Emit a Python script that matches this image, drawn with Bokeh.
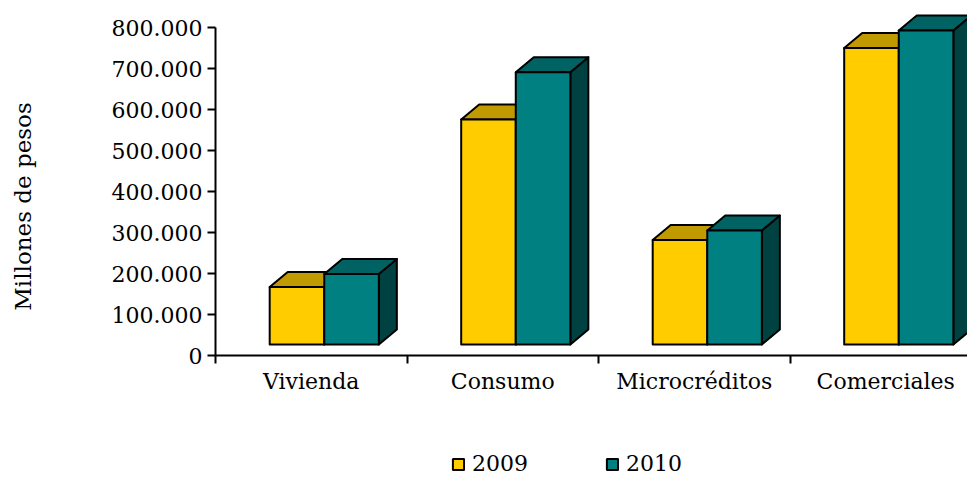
import math
from bokeh.plotting import figure
from bokeh.layouts import column, row
from bokeh.models import FixedTicker, Range1d, Legend, LegendItem, ColumnDataSource
from bokeh.core.properties import value
from bokeh.embed import file_html
from bokeh.resources import INLINE

# ---- data ----
categories = ["Vivienda", "Consumo", "Microcréditos", "Comerciales"]
series_names = ["2009", "2010"]
v2009 = [140000, 549000, 255000, 723000]
v2010 = [172000, 664000, 278000, 766000]
y_ticks = [0, 100000, 200000, 300000, 400000, 500000, 600000, 700000, 800000]
y_tick_labels = ["0", "100.000", "200.000", "300.000", "400.000", "500.000",
                 "600.000", "700.000", "800.000"]
y_title = "Millones de pesos"

# ---- style / geometry constants ----
FONT = "DejaVu Serif"
FS = "22px"
TOTAL_W, TOTAL_H = 967, 477
TITLE_W = 45
MAIN_H = 400
PX_PER_UNIT_Y = 41 / 100000.0     # pixels per data unit
PX_PER_CAT = 191.5                # pixels per category
FRAME_LEFT = 215
FRAME_BOTTOM = 355
FRAME_W = TOTAL_W - FRAME_LEFT
BAR_W = 0.285
GROUP_SHIFT = 0.068
DEPTH_X = 18 / PX_PER_CAT
DEPTH_Y = 15 / PX_PER_UNIT_Y
BASE = 11 / PX_PER_UNIT_Y
NAN = float("nan")

front_cols = ["#FFCC00", "#008080"]
top_cols = ["#C09A00", "#006262"]
side_cols = ["#997A00", "#004242"]

p = figure(width=TOTAL_W - TITLE_W, height=MAIN_H,
           x_range=Range1d(0, FRAME_W / PX_PER_CAT),
           y_range=Range1d(0, FRAME_BOTTOM / PX_PER_UNIT_Y),
           output_backend="svg", toolbar_location=None,
           min_border_left=FRAME_LEFT - TITLE_W, min_border_right=0,
           min_border_top=0, min_border_bottom=MAIN_H - FRAME_BOTTOM)
p.outline_line_color = None
p.xgrid.visible = False
p.ygrid.visible = False

front_renderers = []
for si, vals in enumerate([v2009, v2010]):
    lefts, rights, tops, bottoms = [], [], [], []
    top_xs, top_ys, side_xs, side_ys = [], [], [], []
    for ci, v in enumerate(vals):
        c = ci + 0.5 + GROUP_SHIFT
        l = c - BAR_W + si * BAR_W
        r = l + BAR_W
        b = BASE
        t = BASE + v
        lefts.append(l); rights.append(r); tops.append(t); bottoms.append(b)
        top_xs.append([l, r, r + DEPTH_X, l + DEPTH_X])
        top_ys.append([t, t, t + DEPTH_Y, t + DEPTH_Y])
        side_xs.append([r, r + DEPTH_X, r + DEPTH_X, r])
        side_ys.append([b, b + DEPTH_Y, t + DEPTH_Y, t])
    p.patches(side_xs, side_ys, fill_color=side_cols[si], line_color="black",
              line_width=2, line_join="round")
    p.patches(top_xs, top_ys, fill_color=top_cols[si], line_color="black",
              line_width=2, line_join="round")
    src = ColumnDataSource(dict(left=lefts, right=rights, top=tops, bottom=bottoms))
    rr = p.quad(left="left", right="right", top="top", bottom="bottom", source=src,
                fill_color=front_cols[si], line_color="black", line_width=2,
                line_join="round")
    front_renderers.append(rr)

# x axis
xa = p.xaxis[0]
centers = [i + 0.5 for i in range(len(categories))]
bounds = [float(i) for i in range(len(categories) + 1)]
xa.ticker = FixedTicker(ticks=centers, minor_ticks=bounds)
xa.major_label_overrides = {c: n for c, n in zip(centers, categories)}
xa.major_tick_line_color = None
xa.minor_tick_line_color = "black"
xa.minor_tick_line_width = 2
xa.minor_tick_out = 8
xa.minor_tick_in = 0
xa.axis_line_width = 2
xa.axis_line_color = "black"
xa.major_label_text_font = FONT
xa.major_label_text_font_size = FS
xa.major_label_text_color = "black"
xa.major_label_standoff = 5

# y axis
ya = p.yaxis[0]
ya.ticker = FixedTicker(ticks=y_ticks)
ya.major_label_overrides = {t: s for t, s in zip(y_ticks, y_tick_labels)}
ya.bounds = (y_ticks[0], y_ticks[-1])
ya.minor_tick_line_color = None
ya.major_tick_out = 8
ya.major_tick_in = 0
ya.major_tick_line_width = 2
ya.axis_line_width = 2
ya.axis_line_color = "black"
ya.major_label_text_font = FONT
ya.major_label_text_font_size = FS
ya.major_label_text_color = "black"
ya.major_label_standoff = 5

# ---- y title strip (its frame is aligned with the main frame: 0..FRAME_BOTTOM) ----
pt = figure(width=TITLE_W, height=MAIN_H, x_range=Range1d(0, TITLE_W),
            y_range=Range1d(0, FRAME_BOTTOM), output_backend="svg",
            toolbar_location=None, x_axis_type=None, y_axis_type=None, min_border=0)
pt.outline_line_color = None
pt.grid.visible = False
pt.text(x=[22], y=[FRAME_BOTTOM - 206], text=[y_title], angle=math.pi / 2,
        text_align="center", text_baseline="middle",
        text_font=value(FONT), text_font_size="23px", text_color="black")

# ---- legend strip ----
LEG_H = TOTAL_H - MAIN_H
pl = figure(width=TOTAL_W, height=LEG_H, x_range=Range1d(0, TOTAL_W),
            y_range=Range1d(0, LEG_H), output_backend="svg", toolbar_location=None,
            x_axis_type=None, y_axis_type=None, min_border=0)
pl.outline_line_color = None
pl.grid.visible = False
proxies = []
for si in range(2):
    proxies.append(pl.quad(left=[NAN], right=[NAN], top=[NAN], bottom=[NAN],
                           fill_color=front_cols[si], line_color="black", line_width=2))
legend = Legend(items=[LegendItem(label=series_names[i], renderers=[proxies[i]])
                       for i in range(2)],
                orientation="horizontal", location=(451, 1),
                margin=0, padding=0, spacing=77,
                glyph_width=14, glyph_height=14, label_standoff=7, label_width=56,
                label_text_font=FONT, label_text_font_size=FS,
                label_text_color="black",
                border_line_color=None, background_fill_alpha=0)
pl.add_layout(legend, "center")

layout = column(row(pt, p), pl)
open("out.html", "w").write(file_html(layout, INLINE))
